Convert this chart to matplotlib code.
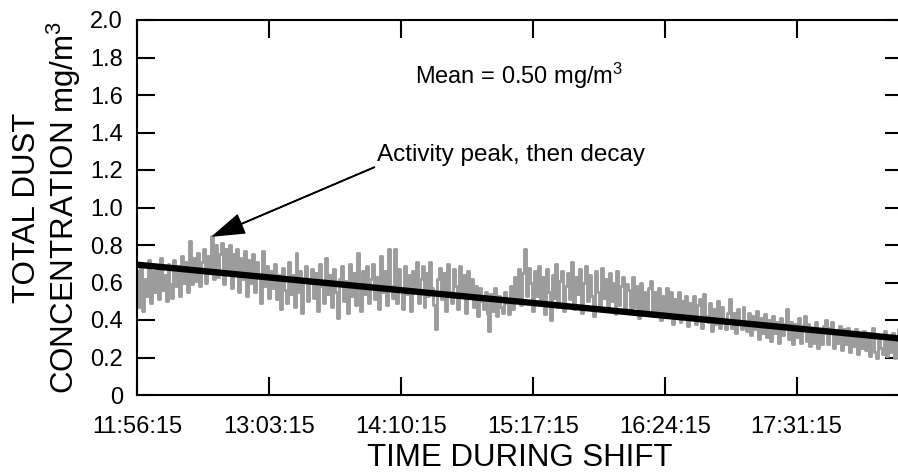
import matplotlib
matplotlib.use('Agg')
import numpy as np
import matplotlib.pyplot as plt

plt.rcParams['font.family'] = ['Liberation Sans', 'DejaVu Sans']
plt.rcParams['mathtext.fontset'] = 'custom'
plt.rcParams['mathtext.rm'] = 'Liberation Sans'
plt.rcParams['mathtext.it'] = 'Liberation Sans:italic'

# dust concentration, one reading per minute from 11:56:15 (mg/m3)
dust = [
    0.66, 0.47, 0.70, 0.45, 0.62, 0.53, 0.72, 0.49, 0.66, 0.55,
    0.68, 0.51, 0.73, 0.56, 0.64, 0.50, 0.70, 0.59, 0.52, 0.72,
    0.58, 0.69, 0.53, 0.74, 0.60, 0.71, 0.55, 0.82, 0.59, 0.73,
    0.61, 0.76, 0.58, 0.71, 0.78, 0.60, 0.74, 0.65, 0.85, 0.62,
    0.80, 0.63, 0.75, 0.81, 0.59, 0.78, 0.66, 0.80, 0.57, 0.75,
    0.64, 0.78, 0.55, 0.73, 0.62, 0.77, 0.53, 0.72, 0.60, 0.75,
    0.55, 0.71, 0.63, 0.49, 0.77, 0.58, 0.69, 0.52, 0.66, 0.57,
    0.70, 0.51, 0.64, 0.46, 0.68, 0.56, 0.49, 0.71, 0.54, 0.64,
    0.47, 0.76, 0.55, 0.66, 0.44, 0.61, 0.69, 0.50, 0.60, 0.67,
    0.52, 0.65, 0.45, 0.70, 0.58, 0.49, 0.73, 0.54, 0.64, 0.47,
    0.67, 0.55, 0.41, 0.62, 0.69, 0.50, 0.61, 0.44, 0.70, 0.53,
    0.65, 0.48, 0.76, 0.59, 0.45, 0.66, 0.54, 0.69, 0.49, 0.62,
    0.70, 0.51, 0.63, 0.46, 0.74, 0.55, 0.66, 0.48, 0.78, 0.58,
    0.52, 0.78, 0.49, 0.67, 0.57, 0.46, 0.69, 0.54, 0.64, 0.45,
    0.66, 0.55, 0.71, 0.49, 0.62, 0.69, 0.47, 0.65, 0.53, 0.71,
    0.57, 0.48, 0.35, 0.62, 0.68, 0.51, 0.65, 0.45, 0.70, 0.55,
    0.49, 0.67, 0.58, 0.46, 0.69, 0.53, 0.64, 0.44, 0.66, 0.54,
    0.62, 0.47, 0.58, 0.42, 0.57, 0.50, 0.46, 0.55, 0.43, 0.34,
    0.54, 0.45, 0.57, 0.42, 0.53, 0.47, 0.44, 0.55, 0.49, 0.43,
    0.58, 0.46, 0.63, 0.51, 0.67, 0.48, 0.65, 0.78, 0.53, 0.68,
    0.60, 0.45, 0.66, 0.53, 0.69, 0.49, 0.63, 0.43, 0.67, 0.55,
    0.40, 0.64, 0.52, 0.70, 0.47, 0.61, 0.66, 0.45, 0.58, 0.65,
    0.51, 0.71, 0.46, 0.63, 0.54, 0.67, 0.44, 0.60, 0.69, 0.50,
    0.64, 0.53, 0.42, 0.66, 0.55, 0.47, 0.68, 0.52, 0.62, 0.45,
    0.65, 0.50, 0.60, 0.43, 0.66, 0.48, 0.58, 0.63, 0.45, 0.59,
    0.56, 0.44, 0.63, 0.47, 0.58, 0.41, 0.60, 0.46, 0.55, 0.44,
    0.57, 0.61, 0.42, 0.55, 0.45, 0.57, 0.40, 0.53, 0.44, 0.57,
    0.42, 0.55, 0.38, 0.51, 0.44, 0.55, 0.39, 0.50, 0.43, 0.53,
    0.37, 0.49, 0.41, 0.53, 0.38, 0.48, 0.51, 0.36, 0.54, 0.42,
    0.39, 0.49, 0.34, 0.46, 0.38, 0.50, 0.36, 0.47, 0.40, 0.35,
    0.44, 0.51, 0.36, 0.44, 0.33, 0.46, 0.38, 0.35, 0.47, 0.37,
    0.34, 0.44, 0.32, 0.42, 0.35, 0.45, 0.30, 0.41, 0.33, 0.43,
    0.31, 0.40, 0.29, 0.42, 0.33, 0.39, 0.28, 0.41, 0.32, 0.38,
    0.46, 0.30, 0.39, 0.27, 0.38, 0.31, 0.41, 0.28, 0.37, 0.42,
    0.29, 0.38, 0.26, 0.36, 0.28, 0.39, 0.25, 0.35, 0.27, 0.37,
    0.40, 0.27, 0.36, 0.39, 0.25, 0.34, 0.28, 0.37, 0.24, 0.35,
    0.27, 0.36, 0.23, 0.33, 0.26, 0.35, 0.22, 0.32, 0.25, 0.34,
    0.24, 0.33, 0.21, 0.31, 0.36, 0.23, 0.20, 0.32, 0.25, 0.22,
    0.34, 0.21, 0.30, 0.23, 0.33, 0.20, 0.29, 0.35, 0.22, 0.31,
]
minutes = np.arange(len(dust))

# linear trend
trend_min = [0, 389]
trend_val = [0.695, 0.30]

tick_min = [0, 67, 134, 201, 268, 335]
tick_lab = ['11:56:15', '13:03:15', '14:10:15', '15:17:15', '16:24:15', '17:31:15']
y_ticks = [0, 0.2, 0.4, 0.6, 0.8, 1.0, 1.2, 1.4, 1.6, 1.8, 2.0]
y_labs = ['0', '0.2', '0.4', '0.6', '0.8', '1.0', '1.2', '1.4', '1.6', '1.8', '2.0']

fig = plt.figure(figsize=(8.98, 4.75), dpi=100)
ax = fig.add_axes([137/898, 80/475, 766/898, 375/475])

ax.plot(minutes, dust, color='#9c9c9c', lw=2.1, drawstyle='steps-mid')
ax.plot(trend_min, trend_val, color='black', lw=4.6, solid_capstyle='butt')

ax.set_xlim(0, 389)
ax.set_ylim(0, 2.0)
ax.set_xticks(tick_min)
ax.set_xticklabels(tick_lab)
ax.set_yticks(y_ticks)
ax.set_yticklabels(y_labs)

ax.tick_params(axis='both', direction='in', length=13, width=1.5, labelsize=17)
ax.tick_params(axis='x', pad=15, top=True)
ax.tick_params(axis='y', pad=10, right=True)
for s in ax.spines.values():
    s.set_linewidth(1.5)

ax.set_xlabel('TIME DURING SHIFT', fontsize=22.5)
ax.xaxis.set_label_coords(0.5, -0.128)
ax.set_ylabel('TOTAL DUST\nCONCENTRATION mg/m$^3$', fontsize=22.5, linespacing=1.1)
ax.yaxis.set_label_coords(-0.07, 0.5)

ax.text(194, 1.70, 'Mean = 0.50 mg/m$^3$', fontsize=17, ha='center', va='center')
ax.annotate('Activity peak, then decay', xy=(38.6, 0.848), xytext=(122, 1.28),
            fontsize=17.5, ha='left', va='center',
            arrowprops=dict(facecolor='black', edgecolor='black', width=0.4,
                            headwidth=14, headlength=22, shrink=0.0))

fig.savefig('out.png', dpi=100)
